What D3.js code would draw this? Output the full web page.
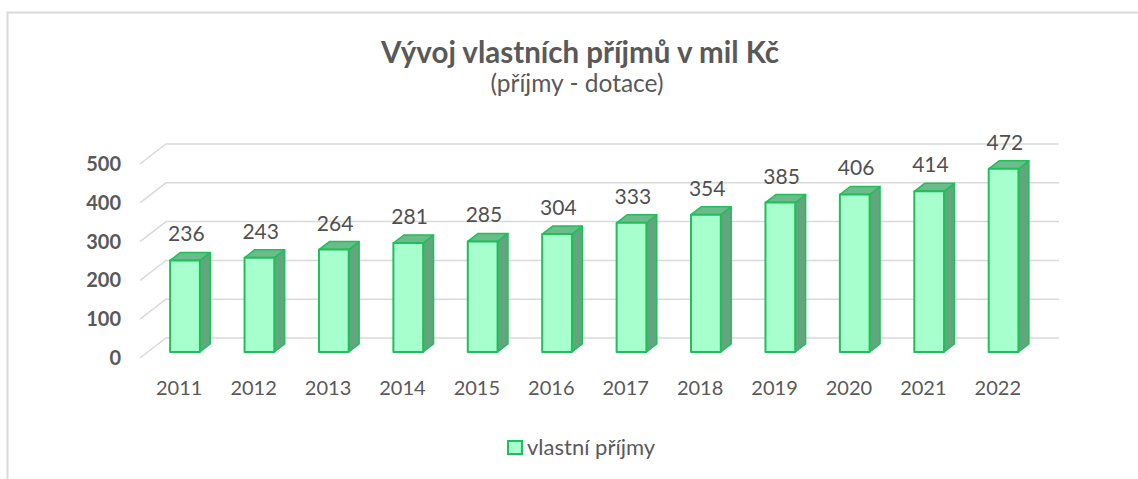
<!DOCTYPE html>
<html>
<head>
<meta charset="utf-8">
<script src="https://cdn.jsdelivr.net/npm/d3@7"></script>
<style>
  body { margin: 0; background: white; }
  text { font-family: Lato, "Open Sans", sans-serif; }
</style>
</head>
<body>
<div id="container"></div>
<script>
let w = 1138;
let h = 479;

let years = ["2011","2012","2013","2014","2015","2016","2017","2018","2019","2020","2021","2022"];
let values = [236, 243, 264, 281, 285, 304, 333, 354, 385, 406, 414, 472];
let yTicks = [0, 100, 200, 300, 400, 500];

let titleText = "Vývoj vlastních příjmů v mil Kč";
let subtitleText = "(příjmy - dotace)";
let legendText = "vlastní příjmy";

// fake 3d: floor front edge and depth vector
let floorY = 358;
let depthX = 26;
let depthY = -20;
let barD0 = 0.3;
let barD1 = 0.7;

let frontColor = "#a6ffcc";
let sideColor = "#62a67d";
let topColor = "#6dba8b";
let edgeColor = "#1fbf5a";
let gridColor = "#d9d9d9";
let textColor = "#595959";

let viz = d3.select("#container")
  .append("svg")
    .attr("width", w)
    .attr("height", h)
    .style("background-color", "white")
;

viz.append("rect")
  .attr("x", 7.5)
  .attr("y", 12.5)
  .attr("width", 1300)
  .attr("height", 800)
  .attr("fill", "none")
  .attr("stroke", gridColor)
  .attr("stroke-width", 2)
;

let xScale = d3.scaleBand().domain(years).range([140, 1033]).paddingInner(0.6).paddingOuter(0.3);
let yScale = d3.scaleLinear().domain([0, 500]).range([floorY, floorY - 194]);

function pt(x, v, d){
  return [x + d * depthX, yScale(v) + d * depthY];
}

// gridlines: side wall diagonal + back wall
let x0 = xScale.range()[0];
let x1 = xScale.range()[1];
viz.selectAll(".grid").data(yTicks).enter()
  .append("path")
    .classed("grid", true)
    .attr("d", function(t){
      let a = pt(x0, t, 0), b = pt(x0, t, 1), c = pt(x1, t, 1);
      return "M" + a + "L" + b + "L" + c;
    })
    .attr("fill", "none")
    .attr("stroke", gridColor)
    .attr("stroke-width", 1.5)
;

// y axis
let yAxis = d3.axisLeft(yScale).tickValues(yTicks).tickSize(0).tickPadding(0);
let yAxisGroup = viz.append("g")
  .attr("transform", "translate(121,0)")
  .call(yAxis);
yAxisGroup.select(".domain").remove();
yAxisGroup.selectAll("text")
  .style("font-family", "Lato, sans-serif")
  .style("font-size", "20px")
  .style("font-weight", "bold")
  .attr("fill", textColor);

// x axis
let xAxis = d3.axisBottom(xScale).tickSize(0).tickPadding(0);
let xAxisGroup = viz.append("g")
  .attr("transform", "translate(2,381)")
  .call(xAxis);
xAxisGroup.select(".domain").remove();
xAxisGroup.selectAll("text")
  .style("font-family", "Lato, sans-serif")
  .style("font-size", "20px")
  .attr("fill", textColor);

// bars
let bw = xScale.bandwidth();
let bars = viz.selectAll(".bar").data(values).enter()
  .append("g")
    .classed("bar", true)
;

bars.append("path")
  .attr("d", function(v, i){
    let x = xScale(years[i]);
    let a = pt(x + bw, 0, barD0), b = pt(x + bw, 0, barD1), c = pt(x + bw, v, barD1), e = pt(x + bw, v, barD0);
    return "M" + a + "L" + b + "L" + c + "L" + e + "Z";
  })
  .attr("fill", sideColor)
  .attr("stroke", edgeColor)
  .attr("stroke-width", 1.5)
  .attr("stroke-linejoin", "round")
;

bars.append("path")
  .attr("d", function(v, i){
    let x = xScale(years[i]);
    let a = pt(x, v, barD0), b = pt(x, v, barD1), c = pt(x + bw, v, barD1), e = pt(x + bw, v, barD0);
    return "M" + a + "L" + b + "L" + c + "L" + e + "Z";
  })
  .attr("fill", topColor)
  .attr("stroke", edgeColor)
  .attr("stroke-width", 1.5)
  .attr("stroke-linejoin", "round")
;

bars.append("path")
  .attr("d", function(v, i){
    let x = xScale(years[i]);
    let a = pt(x, 0, barD0), b = pt(x, v, barD0), c = pt(x + bw, v, barD0), e = pt(x + bw, 0, barD0);
    return "M" + a + "L" + b + "L" + c + "L" + e + "Z";
  })
  .attr("fill", frontColor)
  .attr("stroke", edgeColor)
  .attr("stroke-width", 2)
  .attr("stroke-linejoin", "round")
;

bars.append("text")
  .text(function(v){ return v; })
  .attr("x", function(v, i){ return pt(xScale(years[i]) + bw / 2, v, 0.35)[0]; })
  .attr("y", function(v, i){ return pt(0, v, barD1)[1] - 11; })
  .attr("text-anchor", "middle")
  .style("font-size", "21px")
  .attr("fill", "#505050")
;

// titles
viz.append("text")
  .text(titleText)
  .attr("x", 580)
  .attr("y", 63)
  .attr("text-anchor", "middle")
  .style("font-size", "29.5px")
  .style("font-weight", "bold")
  .attr("fill", textColor)
;

viz.append("text")
  .text(subtitleText)
  .attr("x", 577)
  .attr("y", 92)
  .attr("text-anchor", "middle")
  .style("font-size", "24.5px")
  .attr("fill", textColor)
;

// legend
viz.append("rect")
  .attr("x", 508)
  .attr("y", 441)
  .attr("width", 14)
  .attr("height", 13)
  .attr("fill", frontColor)
  .attr("stroke", edgeColor)
  .attr("stroke-width", 2)
;

viz.append("text")
  .text(legendText)
  .attr("x", 527)
  .attr("y", 455)
  .style("font-size", "22px")
  .attr("fill", textColor)
;
</script>
</body>
</html>
